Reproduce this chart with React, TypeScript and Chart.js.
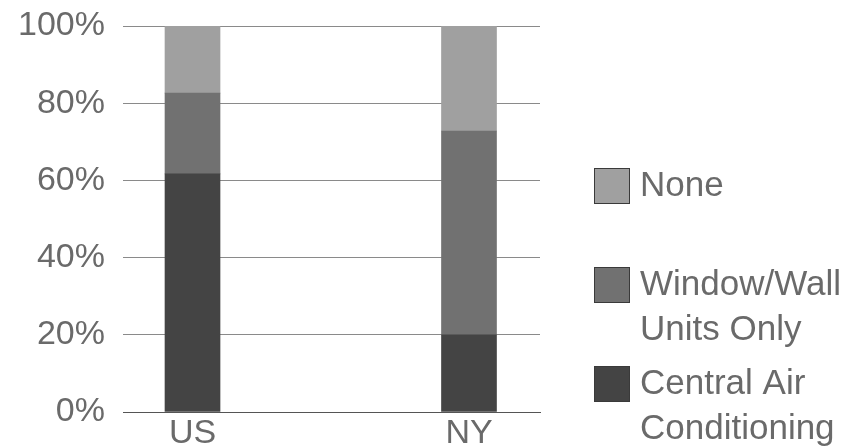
import React, { useEffect, useRef } from "react";
import { Chart, registerables } from "chart.js";

Chart.register(...registerables);

const categories = ["US", "NY"];
const centralAir = [61.7, 20.0];
const windowWall = [20.9, 52.8];
const noneShare = [17.4, 27.2];
const yTicks = [0, 20, 40, 60, 80, 100];
const seriesLabels = ["Central Air\nConditioning", "Window/Wall\nUnits Only", "None"];

const FONT = "'Liberation Sans', Arial, sans-serif";
const TEXT = "#6a6a6a";

const legendPlugin = {
  id: "sideLegend",
  afterDraw(chart: any) {
    const ctx = chart.ctx;
    const ds = chart.data.datasets.slice().reverse();
    const boxX = 594;
    const boxSize = 36;
    const tops = [168, 267, 366];
    const lineH = 45;
    ctx.save();
    ctx.font = `35px ${FONT}`;
    ctx.textBaseline = "alphabetic";
    ctx.textAlign = "left";
    ds.forEach((d: any, i: number) => {
      const top = tops[i];
      ctx.fillStyle = d.backgroundColor;
      ctx.fillRect(boxX, top, boxSize, boxSize);
      ctx.strokeStyle = "#3a3a3a";
      ctx.lineWidth = 1;
      ctx.strokeRect(boxX + 0.5, top + 0.5, boxSize - 1, boxSize - 1);
      ctx.fillStyle = TEXT;
      String(d.label)
        .split("\n")
        .forEach((line: string, j: number) => {
          ctx.fillText(line, 640, top + 28 + j * lineH);
        });
    });
    ctx.restore();
  },
};

export default function App() {
  const ref = useRef<HTMLCanvasElement>(null);
  useEffect(() => {
    document.body.style.margin = "0";
    const mk = (vals: number[]) => vals.map((v, i) => ({ x: i, y: v }));
    const chart = new Chart(ref.current!, {
      type: "bar",
      data: {
        datasets: [
          { label: seriesLabels[0], data: mk(centralAir), backgroundColor: "#444444" },
          { label: seriesLabels[1], data: mk(windowWall), backgroundColor: "#717171" },
          { label: seriesLabels[2], data: mk(noneShare), backgroundColor: "#a0a0a0" },
        ] as any,
      },
      options: {
        animation: false,
        responsive: false,
        devicePixelRatio: 1,
        layout: { padding: { top: 26, right: 316, left: 0, bottom: 0 } },
        datasets: { bar: { barThickness: 55 } } as any,
        plugins: { legend: { display: false }, tooltip: { enabled: false } },
        scales: {
          x: {
            type: "linear",
            stacked: true,
            offset: false,
            min: -0.2514,
            max: 1.2568,
            grid: { display: false, offset: false },
            border: { display: true, color: "#555555", width: 1 },
            afterBuildTicks: (s: any) => {
              s.ticks = categories.map((_, i) => ({ value: i }));
            },
            afterFit: (s: any) => {
              s.height = 34;
              s.paddingLeft = 0;
              s.paddingRight = 0;
            },
            ticks: {
              padding: -7,
              font: { family: FONT, size: 34 },
              color: TEXT,
              callback: (v: any) => categories[v] ?? "",
            },
          },
          y: {
            stacked: true,
            min: 0,
            max: 100,
            z: 1,
            afterBuildTicks: (s: any) => {
              s.ticks = yTicks.map((v) => ({ value: v }));
            },
            afterFit: (s: any) => {
              s.width = 123;
              s.paddingTop = 0;
              s.paddingBottom = 0;
            },
            grid: { color: "#8a8a8a", drawTicks: false, lineWidth: 1 },
            border: { display: false },
            ticks: {
              padding: 18,
              font: { family: FONT, size: 34 },
              color: TEXT,
              callback: (v: any) => v + "%",
            },
          },
        },
      } as any,
      plugins: [legendPlugin],
    });
    return () => chart.destroy();
  }, []);
  return (
    <div style={{ position: "absolute", left: 0, top: 0, width: 856, height: 446, background: "#fff" }}>
      <canvas ref={ref} width={856} height={446} style={{ width: 856, height: 446 }} />
    </div>
  );
}
